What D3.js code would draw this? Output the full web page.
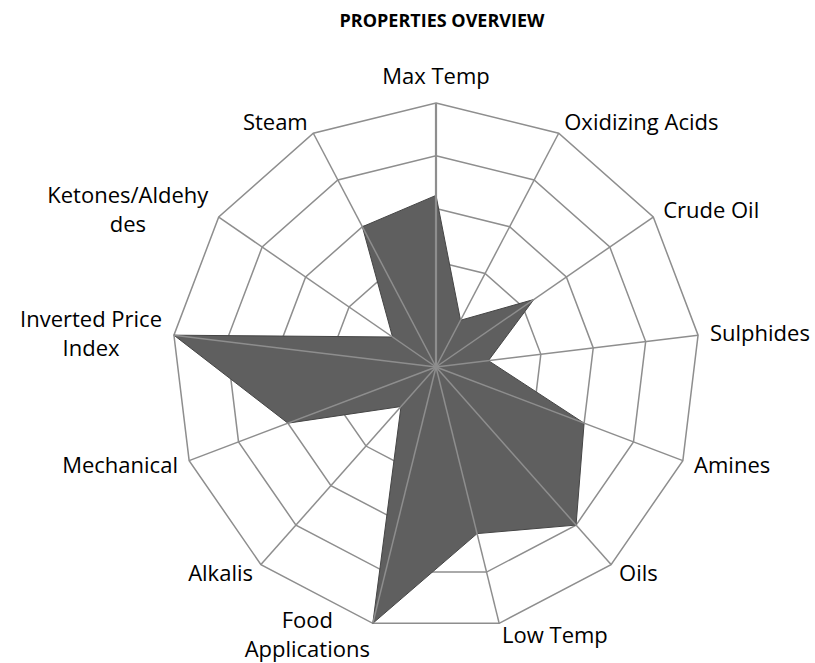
<!DOCTYPE html>
<html>

<head>
    <meta charset="utf-8">
    <title>Properties Overview</title>
    <script src="https://d3js.org/d3.v7.min.js"></script>
    <style>
        body { margin: 0; background: #fff; }
        text { font-family: "Open Sans", "Noto Sans", sans-serif; fill: #000; }
    </style>
</head>

<body>
<script>
    // categories, clockwise from the top
    var categories = ["Max Temp", "Oxidizing Acids", "Crude Oil", "Sulphides", "Amines", "Oils",
        "Low Temp", "Food Applications", "Alkalis", "Mechanical", "Inverted Price Index",
        "Ketones/Aldehydes", "Steam"];
    // how each label wraps in the chart
    var labelLines = [["Max Temp"], ["Oxidizing Acids"], ["Crude Oil"], ["Sulphides"], ["Amines"], ["Oils"],
        ["Low Temp"], ["Food", "Applications"], ["Alkalis"], ["Mechanical"], ["Inverted Price", "Index"],
        ["Ketones/Aldehy", "des"], ["Steam"]];
    var values = [6.5, 2, 4.5, 2, 6, 8, 6.5, 10, 2, 6, 10, 2, 6];
    var gridTicks = [2, 4, 6, 8, 10];

    var width = 815,
        height = 663,
        cx = 436,
        cy = 367,
        radius = 264;

    var svg = d3.select("body")
        .append("svg")
        .attr("width", width)
        .attr("height", height);

    svg.append("text")
        .attr("x", 442)
        .attr("y", 27)
        .attr("text-anchor", "middle")
        .style("font-size", "18px")
        .style("font-weight", "bold")
        .text("PROPERTIES OVERVIEW");

    var g = svg.append("g")
        .attr("transform", "translate(" + cx + "," + cy + ")");

    // angle of each category (0 = up, clockwise)
    var angle = d3.scaleBand()
        .domain(categories)
        .range([0, 2 * Math.PI])
        .paddingInner(0)
        .paddingOuter(0);

    var r = d3.scaleLinear()
        .domain([0, 10])
        .range([0, radius]);

    var radial = d3.lineRadial()
        .angle(function(d) { return angle(d.cat); })
        .radius(function(d) { return r(d.v); })
        .curve(d3.curveLinearClosed);

    // grid polygons
    g.selectAll(".grid")
        .data(gridTicks)
        .enter()
        .append("path")
        .attr("d", function(t) {
            return radial(categories.map(function(c) { return { cat: c, v: t }; }));
        })
        .attr("fill", "none")
        .attr("stroke", "#8e8e8e")
        .attr("stroke-width", 1.5);

    // series area
    g.append("path")
        .attr("d", radial(categories.map(function(c, i) { return { cat: c, v: values[i] }; })))
        .attr("fill", "#5f5f5f")
        .attr("stroke", "#454545")
        .attr("stroke-width", 1);

    // spokes on top
    g.selectAll(".spoke")
        .data(categories)
        .enter()
        .append("line")
        .attr("x1", 0)
        .attr("y1", 0)
        .attr("x2", function(c) { return r(10) * Math.sin(angle(c)); })
        .attr("y2", function(c) { return -r(10) * Math.cos(angle(c)); })
        .attr("stroke", "#8e8e8e")
        .attr("stroke-width", function(c, i) { return i === 0 ? 2.2 : 1.5; });

    // category labels
    var lh = 29;
    categories.forEach(function(c, i) {
        var a = angle(c),
            s = Math.sin(a),
            co = Math.cos(a),
            px = (r(10) + 12) * s,
            py = -(r(10) + 12) * co,
            lines = labelLines[i],
            h = lines.length * lh,
            anchor = s > 0.15 ? "start" : (s < -0.15 ? "end" : "middle");
        var mid = py;
        if (Math.abs(s) < 0.15) mid = py - co * h / 2;

        var t = g.append("text")
            .attr("text-anchor", "middle")
            .style("font-size", "22px");
        lines.forEach(function(l, j) {
            t.append("tspan")
                .attr("x", 0)
                .attr("y", mid - h / 2 + (j + 0.5) * lh)
                .attr("dy", "0.35em")
                .text(l);
        });
        // align the whole block by its width
        var w = t.node().getBBox().width;
        var bx = anchor === "start" ? px + w / 2 : (anchor === "end" ? px - w / 2 : px);
        t.selectAll("tspan").attr("x", bx);
    });
</script>
</body>

</html>
